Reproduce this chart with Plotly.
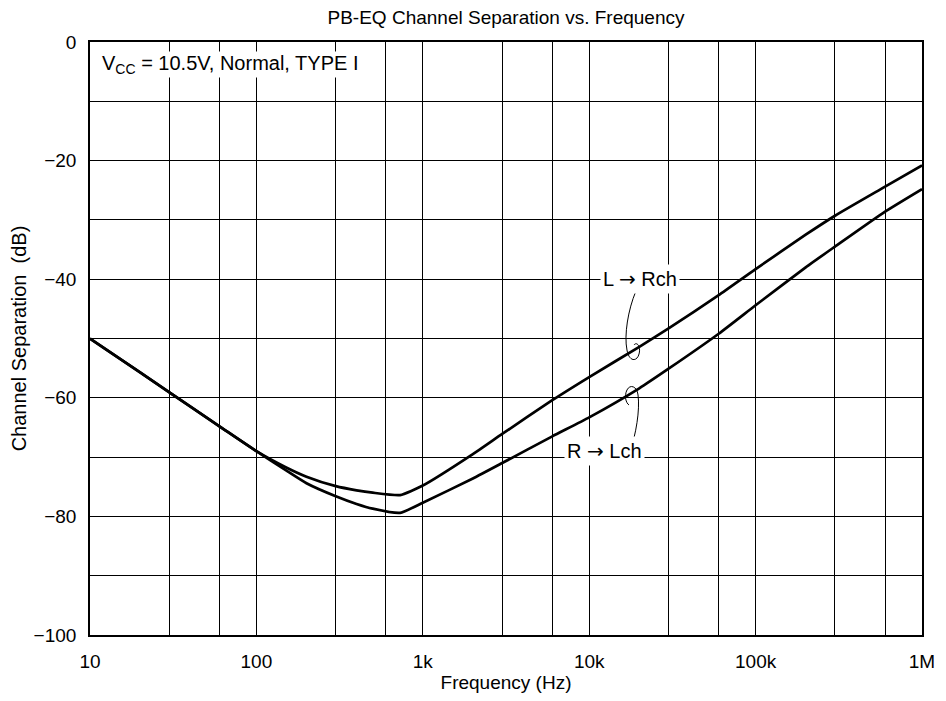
import plotly.graph_objects as go

# frequency points (Hz)
FREQ = [10, 20, 30, 60, 100, 150, 200, 300, 400, 500, 730, 1000, 2000, 3000,
        6000, 10000, 20000, 30000, 60000, 100000, 200000, 300000, 600000, 1000000]

# channel separation (dB)
L_TO_R = [-50, -55.7, -59.1, -64.8, -69.0, -71.7, -73.3, -74.9, -75.6, -76.0, -76.4, -74.8,
          -69.5, -66.1, -60.4, -56.5, -51.4, -48.3, -42.7, -38.3, -32.5, -29.3, -24.4, -20.8]
R_TO_L = [-50, -55.7, -59.1, -64.8, -69.0, -72.2, -74.4, -76.6, -77.9, -78.7, -79.4, -77.7,
          -73.6, -71.0, -66.5, -63.3, -58.4, -55.1, -49.2, -44.4, -38.0, -34.5, -28.6, -24.8]

GRID_X = [10, 30, 60, 100, 300, 600, 1000, 3000, 6000, 10000, 30000, 60000,
          100000, 300000, 600000, 1000000]
X_LABELS = {10: "10", 100: "100", 1000: "1k", 10000: "10k", 100000: "100k", 1000000: "1M"}
GRID_Y = list(range(-100, 1, 10))

FONT = "Arial, Liberation Sans, Helvetica, sans-serif"
ARROW = "<span style='font-family:DejaVu Sans'>→</span>"

# plot area on the page (px); the page body adds an 8px margin
L, R, T, B = 90, 922, 42, 635
OFF = 8
W, H = 946 - 2 * OFF, 701 - 2 * OFF

fig = go.Figure()
for ys, name in ((L_TO_R, "L → Rch"), (R_TO_L, "R → Lch")):
    fig.add_trace(go.Scatter(
        x=FREQ, y=ys, mode="lines", name=name,
        line=dict(color="black", width=2.7, shape="spline", smoothing=0.5),
        showlegend=False,
    ))


def px(x, y):
    return f"{(x - L) / (R - L):.4f},{(B - y) / (B - T):.4f}"


# leader hooks tying the labels to their curves
p1 = (f"M {px(636, 291)} C {px(628, 310)} {px(624, 335)} {px(627, 350)} "
      f"C {px(629, 362)} {px(637, 362)} {px(639, 354)} "
      f"C {px(641, 347)} {px(637, 341)} {px(634, 345)}")
p2 = (f"M {px(630, 451)} C {px(636, 435)} {px(640, 410)} {px(638, 395)} "
      f"C {px(637, 386)} {px(630, 384)} {px(627, 390)} "
      f"C {px(624, 396)} {px(626, 403)} {px(629, 405)}")
for p in (p1, p2):
    fig.add_shape(type="path", path=p, xref="paper", yref="paper",
                  line=dict(color="black", width=1), layer="above")

ann_font = dict(family=FONT, size=20, color="black")
fig.add_annotation(x=(101 - L) / (R - L), y=(B - 64) / (B - T), xref="paper", yref="paper",
                   xanchor="left", yanchor="middle",
                   text="V<sub>CC</sub> = 10.5V, Normal, TYPE I", showarrow=False,
                   font=ann_font, bgcolor="white", borderpad=0)
fig.add_annotation(x=(680 - L) / (R - L), y=(B - 279) / (B - T), xref="paper", yref="paper",
                   text=f"L {ARROW} Rch", showarrow=False, font=ann_font,
                   bgcolor="white", borderpad=2)
fig.add_annotation(x=(604 - L) / (R - L), y=(B - 466) / (B - T), xref="paper", yref="paper",
                   text=f"R {ARROW} Lch", showarrow=False, font=ann_font,
                   bgcolor="white", borderpad=2)

fig.update_layout(
    width=W, height=H,
    paper_bgcolor="white", plot_bgcolor="white",
    margin=dict(l=L - OFF, r=W - (R - OFF), t=T - OFF, b=H - (B - OFF)),
    font=dict(family=FONT, size=19, color="black"),
    title=dict(text="PB-EQ Channel Separation vs. Frequency",
               x=((L + R) / 2 - OFF) / W, xanchor="center",
               y=1 - 9 / H, yanchor="middle",
               font=dict(family=FONT, size=19, color="black")),
    xaxis=dict(
        type="log", range=[1, 6], automargin=False,
        tickvals=GRID_X, ticktext=[X_LABELS.get(v, "") for v in GRID_X],
        showgrid=True, gridcolor="black", gridwidth=1,
        showline=True, linecolor="black", linewidth=1.6, mirror=True,
        ticks="", zeroline=False, ticklabelstandoff=8,
        title=dict(text="Frequency (Hz)", font=dict(size=19), standoff=10),
        tickfont=dict(size=19),
    ),
    yaxis=dict(
        range=[-100, 0], automargin=False,
        tickvals=GRID_Y,
        ticktext=[("−" + str(-v) if v < 0 else "0") if v % 20 == 0 else "" for v in GRID_Y],
        showgrid=True, gridcolor="black", gridwidth=1,
        showline=True, linecolor="black", linewidth=1.6, mirror=True,
        ticks="", zeroline=False, ticklabelstandoff=8,
        title=dict(text="Channel Separation  (dB)", font=dict(size=20), standoff=10),
        tickfont=dict(size=19),
    ),
)

fig.write_html("out.html")
